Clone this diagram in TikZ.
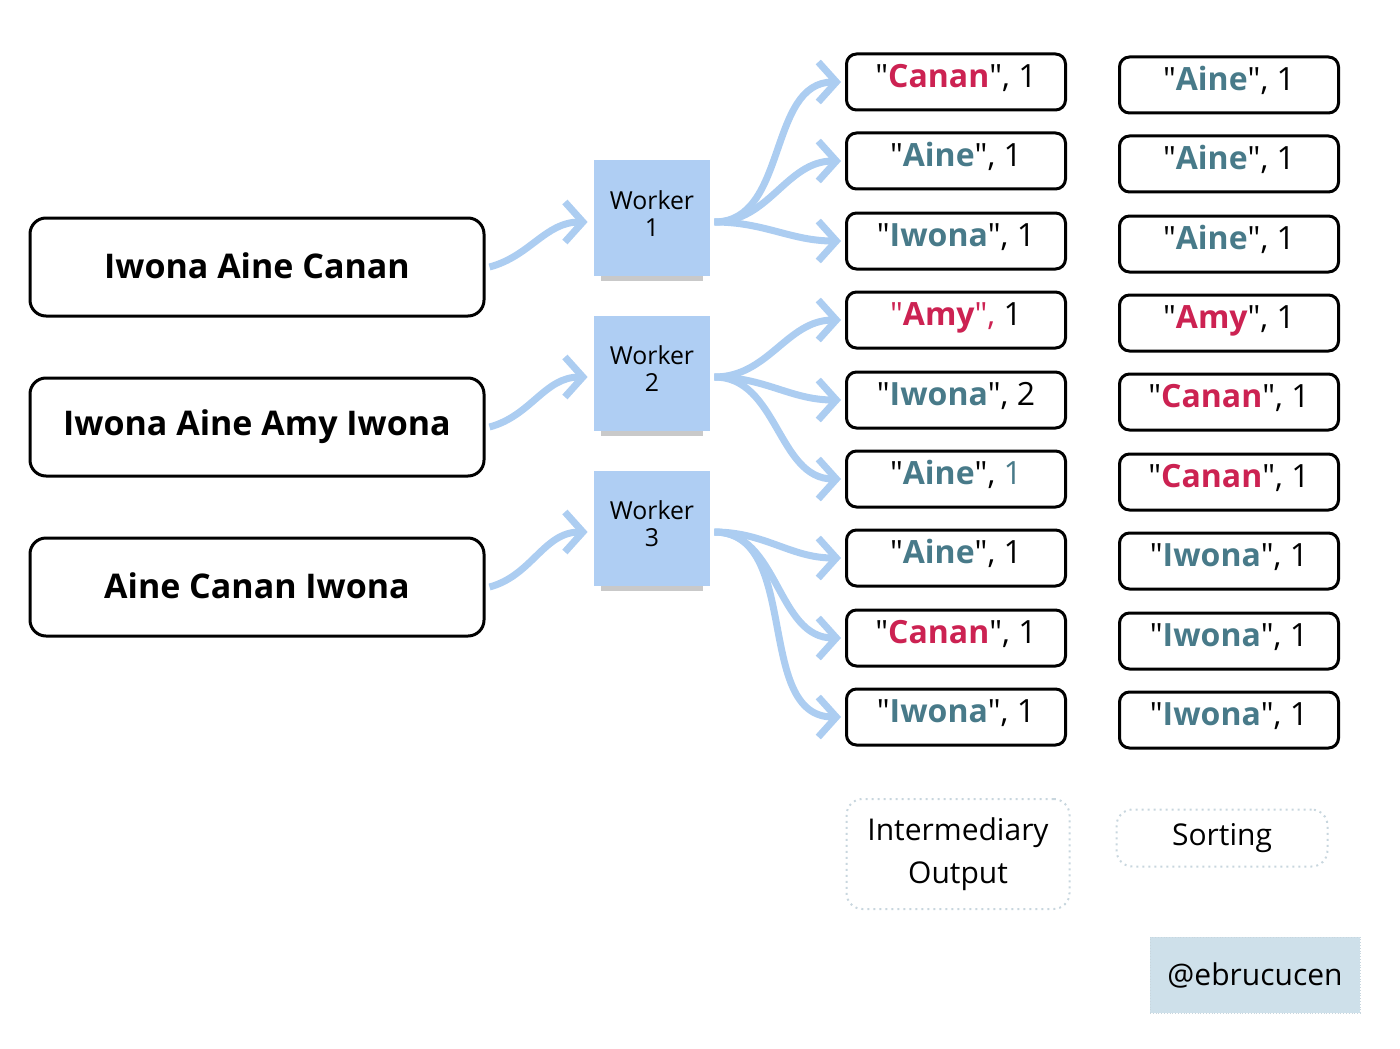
\documentclass[tikz,border=0pt]{standalone}
\usepackage{fontspec}
\setmainfont{Open Sans}[Ligatures=TeXOff]
\usepackage{tikz}
\usetikzlibrary{arrows.meta,shadows}
\definecolor{wred}{RGB}{204,34,82}
\definecolor{wteal}{RGB}{72,122,137}
\definecolor{flowblue}{RGB}{172,205,241}
\definecolor{workerblue}{RGB}{175,206,243}
\definecolor{dotgray}{RGB}{200,214,222}
\definecolor{tagblue}{RGB}{206,224,234}
\newcommand{\wordred}[1]{\textcolor{wred}{\textbf{#1}}}
\newcommand{\wordteal}[1]{\textcolor{wteal}{\textbf{#1}}}

\begin{document}
\begin{tikzpicture}[x=0.5pt,y=-0.5pt,
  inbox/.style={draw,line width=1.5pt,rounded corners=8pt,minimum width=227pt,minimum height=49pt,font=\fontsize{17}{20}\selectfont\bfseries},
  worker/.style={fill=workerblue,minimum width=58pt,minimum height=57.5pt,font=\fontsize{12.4}{13.5}\selectfont,
    drop shadow={shadow xshift=0pt,shadow yshift=-7pt,shadow scale=0.88,opacity=0.3,fill=black!70}},
  pair/.style={draw,line width=1.5pt,rounded corners=5pt,minimum width=109.5pt,minimum height=28pt,text height=11.5pt,text depth=6pt,font=\fontsize{16}{19}\selectfont},
  note/.style={draw=dotgray,dotted,line width=1pt,rounded corners=8pt,align=center,font=\fontsize{15}{21.5}\selectfont},
  flow/.style={draw=flowblue,line width=3.5pt,-{Straight Barb[length=9pt,width=20pt]}}]
  \useasboundingbox (0,0) rectangle (1400,1048);

  \foreach \k/\y/\txt in {1/267/Iwona Aine Canan,2/427/Iwona Aine Amy Iwona,3/587/Aine Canan Iwona}
    \node[inbox] (in\k) at (257,\y) {\raisebox{1.5pt}{\txt}};

  \foreach \k/\y in {1/218,2/373,3/528}
    \node[worker] (w\k) at (652,\y) {\raisebox{2.5pt}{\begin{tabular}{@{}c@{}}Worker\\\k\end{tabular}}};

  \foreach \i/\y/\txt in {1/82/{"\wordred{Canan}", 1},2/161/{"\wordteal{Aine}", 1},3/241/{"\wordteal{Iwona}", 1},
      4/320/{\textcolor{wred}{"\textbf{Amy}", }1},5/400/{"\wordteal{Iwona}", 2},6/479/{"\wordteal{Aine}", \textcolor{wteal}{1}},
      7/558/{"\wordteal{Aine}", 1},8/638/{"\wordred{Canan}", 1},9/717/{"\wordteal{Iwona}", 1}}
    \node[pair] (m\i) at (956,\y) {\txt};

  \foreach \i/\y/\txt in {1/85/{"\wordteal{Aine}", 1},2/164/{"\wordteal{Aine}", 1},3/244/{"\wordteal{Aine}", 1},
      4/323/{"\wordred{Amy}", 1},5/402/{"\wordred{Canan}", 1},6/482/{"\wordred{Canan}", 1},
      7/561/{"\wordteal{Iwona}", 1},8/641/{"\wordteal{Iwona}", 1},9/720/{"\wordteal{Iwona}", 1}}
    \node[pair] (s\i) at (1229,\y) {\txt};

  \foreach \k in {1,2,3}
    \draw[flow] ([xshift=2pt]in\k.east) to[out=15,in=180] ([xshift=-3pt,yshift=-2pt]w\k.west);

  \foreach \k/\a/\b/\c in {1/1/2/3,2/4/5/6,3/7/8/9}
    \foreach \m in {\a,\b,\c}
      \draw[flow] ([xshift=2pt,yshift=-2pt]w\k.east) to[out=0,in=180] ([xshift=-2pt]m\m.west);

  \node[note,minimum width=111.5pt,minimum height=55pt] (lbmid) at (958,854) {Intermediary\\Output};
  \node[note,minimum width=105.5pt,minimum height=28.5pt] (lbsort) at (1222,838) {Sorting};
  \node[fill=tagblue,draw=dotgray,densely dotted,minimum width=105pt,minimum height=38pt,font=\fontsize{15}{18}\selectfont] (tag) at (1255,975) {@ebrucucen};
\end{tikzpicture}
\end{document}
